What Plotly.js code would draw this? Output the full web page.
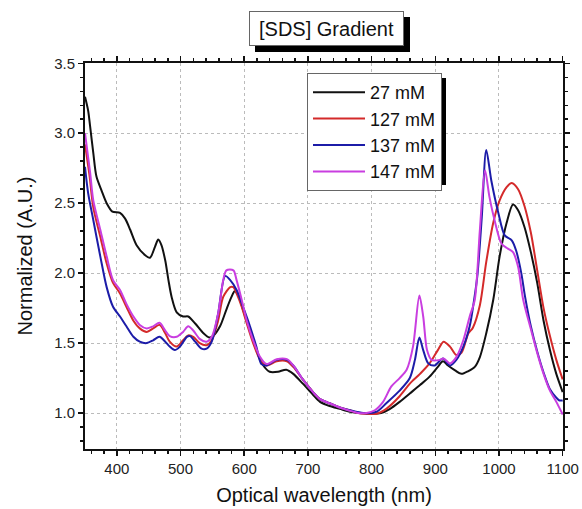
<!DOCTYPE html>
<html>
<head>
<meta charset="utf-8">
<script src="https://cdn.plot.ly/plotly-3.0.1.min.js"></script>
<style>html,body{margin:0;padding:0;background:#fff;}#chart{width:582px;height:509px;}</style>
</head>
<body>
<div id="chart"></div>
<script>
// ---- Data ----
const seriesNames = ["27 mM", "127 mM", "137 mM", "147 mM"];

const x27 = [350,355,358,363,368,376,384,393,405,413,421,431,444,452,460,465,470,476,481,486,494,504,512,523,536,545,551,562,572,580,585,591,598,609,619,630,640,653,666,677,692,708,719,734,750,766,780,800,815,829,844,860,876,891,904,912,920,931,941,952,962,970,980,991,1001,1012,1022,1030,1040,1050,1060,1070,1080,1090,1100];
const y27 = [3.26,3.16,3.05,2.86,2.69,2.59,2.50,2.44,2.43,2.39,2.31,2.20,2.13,2.11,2.19,2.24,2.20,2.09,1.95,1.83,1.72,1.69,1.69,1.64,1.57,1.54,1.55,1.62,1.74,1.83,1.87,1.84,1.74,1.59,1.45,1.34,1.295,1.295,1.31,1.28,1.21,1.13,1.08,1.05,1.03,1.01,1.00,0.995,1.00,1.03,1.08,1.14,1.20,1.26,1.33,1.37,1.34,1.305,1.28,1.30,1.33,1.40,1.57,1.81,2.12,2.36,2.49,2.45,2.33,2.15,1.93,1.66,1.45,1.28,1.15];

const x127 = [350,357,363,374,384,394,405,415,426,436,447,457,467,476,483,494,504,512,520,530,541,549,559,567,578,583,588,596,604,614,625,635,651,667,677,692,708,719,734,750,766,779,792,808,823,844,860,876,891,904,913,923,933,941,952,959,970,980,991,1001,1012,1020,1030,1040,1050,1060,1070,1080,1090,1100];
const y127 = [2.92,2.70,2.47,2.26,2.07,1.93,1.855,1.76,1.66,1.605,1.58,1.605,1.63,1.57,1.51,1.475,1.52,1.555,1.545,1.50,1.485,1.52,1.66,1.83,1.90,1.90,1.855,1.76,1.64,1.50,1.38,1.34,1.37,1.37,1.33,1.24,1.15,1.10,1.07,1.04,1.02,1.00,0.995,0.995,1.03,1.12,1.21,1.28,1.355,1.45,1.51,1.475,1.415,1.43,1.57,1.61,1.77,2.08,2.36,2.52,2.615,2.645,2.60,2.48,2.29,2.02,1.75,1.55,1.38,1.24];

const x137 = [350,355,363,374,384,394,405,415,426,436,447,457,467,476,483,491,499,510,515,523,533,541,549,559,570,578,588,598,609,619,627,635,651,667,677,692,708,719,734,750,766,787,808,823,844,860,868,875,881,889,899,912,923,933,944,954,960,966,973,980,988,999,1009,1020,1027,1035,1041,1050,1060,1070,1080,1090,1095,1100];
const y137 = [2.76,2.57,2.38,2.12,1.90,1.76,1.69,1.62,1.545,1.51,1.50,1.52,1.545,1.51,1.475,1.45,1.475,1.545,1.55,1.51,1.46,1.46,1.51,1.71,1.98,1.95,1.88,1.76,1.62,1.475,1.35,1.34,1.38,1.38,1.34,1.24,1.15,1.10,1.07,1.04,1.02,1.00,1.01,1.07,1.16,1.25,1.38,1.54,1.45,1.355,1.34,1.39,1.34,1.38,1.475,1.62,1.78,1.98,2.40,2.88,2.66,2.43,2.27,2.235,2.16,2.00,1.83,1.62,1.44,1.29,1.17,1.11,1.09,1.09];

const x147 = [350,358,363,374,384,394,405,415,426,436,447,457,467,476,483,494,504,512,520,530,541,549,559,567,572,583,588,596,604,614,625,635,651,667,677,692,708,719,734,750,771,779,792,805,818,831,844,855,865,875,881,887,894,907,913,923,933,944,954,962,970,978,985,993,1004,1014,1022,1030,1038,1050,1060,1070,1080,1090,1100];
const y147 = [3.00,2.72,2.52,2.31,2.12,1.95,1.88,1.78,1.69,1.63,1.605,1.62,1.645,1.59,1.55,1.545,1.58,1.62,1.59,1.53,1.51,1.545,1.71,1.95,2.02,2.02,1.95,1.81,1.66,1.52,1.40,1.35,1.385,1.385,1.34,1.24,1.15,1.10,1.07,1.04,1.01,1.00,1.00,1.02,1.08,1.19,1.25,1.31,1.475,1.84,1.69,1.45,1.38,1.38,1.39,1.355,1.40,1.52,1.69,1.81,2.31,2.736,2.545,2.38,2.21,2.175,2.15,2.045,1.81,1.60,1.43,1.28,1.16,1.08,0.99];

const xTickVals = [400,500,600,700,800,900,1000,1100];
const yTickVals = [1.0,1.5,2.0,2.5,3.0,3.5];

const colors = ["#111111", "#d42a2a", "#1c1ca8", "#c93ee0"];
const xs = [x27, x127, x137, x147];
const ys = [y27, y127, y137, y147];

const FONT = "Liberation Sans, Arial, sans-serif";

const traces = seriesNames.map((n, i) => ({
  x: xs[i], y: ys[i], name: n, type: "scatter", mode: "lines",
  line: {color: colors[i], width: 2, shape: "spline", smoothing: 0.8}
}));

const W = 478, H = 386, L = 85, T = 63;
function px(p){ return (p - L) / W; }
function py(p){ return 1 - (p - T) / H; }

const layout = {
  width: 582, height: 509,
  margin: {l: L, r: 19, t: T, b: 60},
  paper_bgcolor: "#ffffff", plot_bgcolor: "#ffffff",
  font: {family: FONT, color: "#222"},
  showlegend: true,
  legend: {
    x: px(307), y: py(73), xanchor: "left", yanchor: "top",
    bgcolor: "#ffffff", bordercolor: "#666", borderwidth: 1,
    font: {family: FONT, size: 18, color: "#111"},
    itemwidth: 52, tracegroupgap: 0
  },
  xaxis: {
    range: [350, 1100.5], tickvals: xTickVals, ticktext: xTickVals.map(String),
    ticks: "outside", ticklen: 5, tickwidth: 1.5, tickcolor: "#111",
    minor: {dtick: 20, tick0: 0, ticks: "outside", ticklen: 3, tickwidth: 1.5, tickcolor: "#111", showgrid: false},
    showline: true, linecolor: "#111", linewidth: 2, mirror: "ticks",
    showgrid: true, gridcolor: "#bbbbbb", gridwidth: 1, griddash: "3px,3px",
    zeroline: false,
    tickfont: {family: FONT, size: 15, color: "#222"},
    title: {text: "Optical wavelength (nm)", font: {family: FONT, size: 20, color: "#111"}, standoff: 12}
  },
  yaxis: {
    range: [0.743, 3.502], tickvals: yTickVals, ticktext: yTickVals.map(v => v.toFixed(1)),
    ticks: "outside", ticklen: 5, tickwidth: 1.5, tickcolor: "#111",
    minor: {dtick: 0.1, tick0: 0, ticks: "outside", ticklen: 3, tickwidth: 1.5, tickcolor: "#111", showgrid: false},
    showline: true, linecolor: "#111", linewidth: 2, mirror: "ticks",
    showgrid: true, gridcolor: "#bbbbbb", gridwidth: 1, griddash: "3px,3px",
    zeroline: false,
    tickfont: {family: FONT, size: 15, color: "#222"},
    title: {text: "Normalized (A.U.)", font: {family: FONT, size: 20, color: "#111"}, standoff: 16}
  },
  shapes: [
    {type: "rect", xref: "paper", yref: "paper", layer: "above",
     x0: px(255), x1: px(410), y0: py(52), y1: py(17), fillcolor: "#000", line: {width: 0}},
    {type: "rect", xref: "paper", yref: "paper", layer: "above",
     x0: px(312), x1: px(446), y0: py(185), y1: py(78), fillcolor: "#000", line: {width: 0}}
  ],
  annotations: [
    {text: "[SDS] Gradient", xref: "paper", yref: "paper", x: px(326.5), y: py(28.5),
     xanchor: "center", yanchor: "middle", showarrow: false,
     font: {family: FONT, size: 20, color: "#111"},
     bgcolor: "#ffffff", bordercolor: "#666", borderwidth: 1, borderpad: 5,
     width: 143, height: 23}
  ]
};

Plotly.newPlot("chart", traces, layout, {staticPlot: true, displayModeBar: false});
</script>
</body>
</html>
